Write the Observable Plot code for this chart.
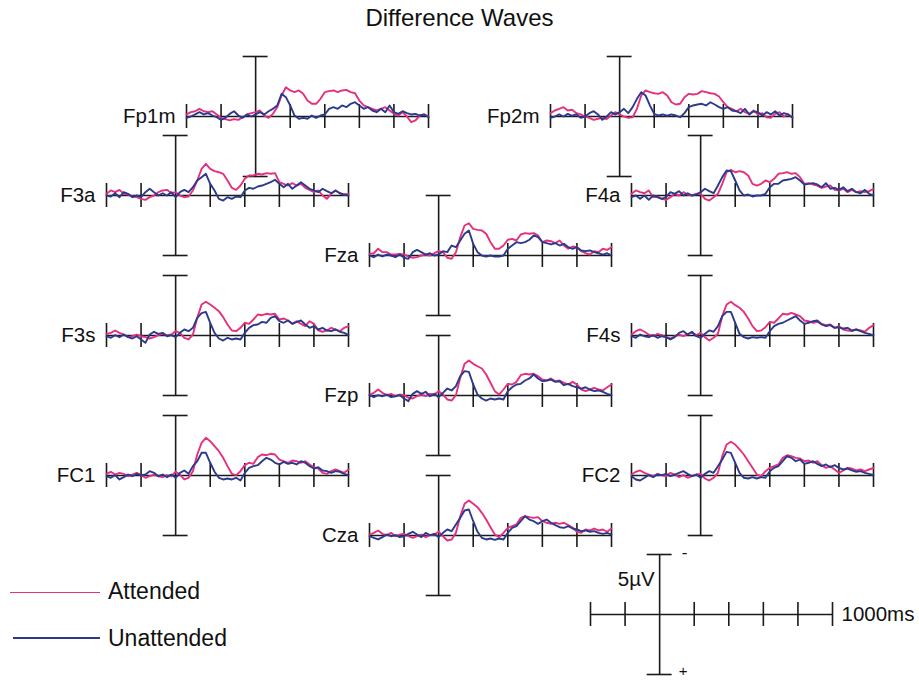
<!DOCTYPE html>
<html><head><meta charset="utf-8">
<script src="https://cdn.jsdelivr.net/npm/d3@7"></script>
<script src="https://cdn.jsdelivr.net/npm/@observablehq/plot@0.6"></script>
<style>
body{margin:0;background:#fff;font-family:"Liberation Sans",Arial,Helvetica,sans-serif;}
#chart{position:relative;width:919px;height:680px;overflow:hidden;background:#fff;}
#chart svg{position:absolute;overflow:visible;background:transparent;}
.title{position:absolute;left:0;width:919px;text-align:center;top:6px;font-size:24px;line-height:24px;color:#111;}
.leg{position:absolute;font-size:23px;line-height:23px;color:#111;}
.legline{position:absolute;height:0;}
</style></head>
<body><div id="chart"><div class="title">Difference Waves</div></div>
<script>
// ---------- data ----------
const times = [-400,-375,-350,-325,-300,-275,-250,-225,-200,-175,-150,-125,-100,-75,-50,-25,
  0,25,50,75,100,125,150,175,200,225,250,275,300,325,350,375,
  400,425,450,475,500,525,550,575,600,625,650,675,700,725,750,775,
  800,825,850,875,900,925,950,975,1000];
const tickValues = [-400,-200,0,200,400,600,800,1000];
const conditions = ["Attended","Unattended"];
const electrodes = ["Fp1m","Fp2m","F3a","F4a","Fza","F3s","F4s","Fzp","FC1","FC2","Cza"];

const fp1mAtt = [-0.17,-0.36,-0.44,-0.64,-0.44,-0.36,-0.44,-0.17,0.11,0.22,0.33,0.22,0.28,0.06,-0.17,-0.28,
  -0.36,-0.5,-0.08,0.11,-0.22,-0.78,-1.75,-2.44,-2.17,-2.03,-2.17,-1.89,-1.33,-1.06,-1.06,-1.47,
  -2.03,-2.11,-2.17,-2.03,-2.17,-2.22,-2.03,-1.94,-1.33,-0.92,-0.78,-0.64,-0.5,-0.64,-0.78,-0.5,
  -0.22,-0.08,-0.36,0,0.47,0.33,-0.08,-0.17,0];
const fp1mUn = [0.11,0,-0.17,-0.36,-0.17,-0.28,-0.08,0.06,0.28,0.11,-0.22,-0.44,-0.08,0.11,-0.17,0,
  -0.17,-0.36,-0.17,-0.44,-0.64,-0.92,-1.89,-1.61,-0.92,-0.08,0.19,0.11,0.19,-0.08,0.11,-0.08,
  -0.17,-0.64,-0.78,-0.64,-0.92,-0.78,-1.06,-1.19,-0.92,-0.64,-0.78,-0.5,-0.36,-0.64,-0.36,-0.92,
  -0.36,-0.22,-0.44,-0.28,-0.17,-0.22,-0.08,-0.17,0.06];
const fp2mAtt = [-0.28,-0.5,-0.64,-0.78,-0.5,-0.56,-0.28,-0.17,0,0.11,0.28,0.19,0.11,0.22,-0.08,-0.36,
  -0.17,0,0.11,0.06,-0.64,-1.75,-2.17,-2.03,-1.94,-1.89,-2.03,-1.75,-1.19,-1.0,-1.06,-1.61,
  -1.89,-1.83,-1.89,-2.11,-2.03,-1.94,-1.89,-1.67,-1.19,-0.78,-0.64,-0.44,-0.64,-0.36,-0.22,-0.5,
  -0.17,-0.28,0.06,0.11,-0.22,-0.36,0,-0.17,0.06];
const fp2mUn = [0.11,0,-0.17,0,-0.22,-0.06,-0.17,0.11,0,-0.28,-0.44,-0.17,0.28,0,-0.36,-0.17,
  -0.36,-0.64,-0.28,-0.78,-1.47,-2.03,-1.75,-0.92,-0.22,-0.08,-0.17,-0.06,-0.17,-0.08,0.06,-0.28,
  -0.78,-0.92,-1.0,-1.06,-0.92,-1.19,-1.0,-0.78,-0.64,-0.78,-0.5,-0.44,-0.28,-0.64,-0.17,-0.44,
  -0.36,-0.08,-0.36,-0.17,-0.44,-0.08,-0.28,-0.17,0.11];
const f3aAtt = [-0.14,-0.42,-0.28,-0.47,-0.14,-0.08,0.08,0.14,0.28,0.36,0.14,0,-0.28,-0.42,-0.47,-0.19,
  -0.28,0,0.14,0.08,-0.42,-1.25,-2.22,-2.64,-2.22,-2.03,-1.94,-1.81,-1.25,-0.64,-0.47,-0.83,
  -1.39,-1.67,-1.67,-1.81,-1.75,-1.86,-1.81,-1.86,-1.11,-0.97,-0.83,-1.03,-0.83,-0.97,-0.64,-0.47,
  -0.28,-0.42,0,0.28,-0.14,-0.42,-0.19,-0.08,-0.14];
const f3aUn = [0,0.08,-0.19,0.14,-0.28,-0.14,0.14,0,0.14,-0.28,-0.56,-0.28,0,-0.19,0,-0.28,
  0.14,-0.28,-0.47,-0.28,-0.69,-1.25,-1.53,-1.81,-0.97,-0.42,0.28,0.42,0.14,0.28,0.08,0.14,
  -0.42,-0.64,-0.56,-0.75,-0.83,-0.97,-1.11,-1.31,-0.97,-0.69,-0.97,-0.56,-0.83,-1.11,-0.83,-0.56,
  -0.42,-0.28,-0.56,-0.36,-0.19,-0.42,-0.19,-0.08,0];
const f4aAtt = [-0.14,-0.42,-0.28,-0.19,-0.42,0.14,0.08,0.28,0.36,0.14,-0.14,0,-0.28,-0.08,0,-0.14,
  -0.14,0.28,0.42,0.14,-0.14,-0.97,-1.94,-2.14,-1.94,-2.03,-1.94,-1.67,-0.97,-0.83,-0.97,-1.25,
  -1.11,-1.39,-1.81,-1.86,-1.94,-1.81,-1.86,-1.53,-0.97,-1.03,-0.92,-0.83,-0.64,-0.75,-0.83,-0.47,
  -0.42,-0.56,-0.28,-0.47,-0.28,-0.36,-0.28,-0.36,-0.56];
const f4aUn = [0.14,0,0.28,0,0.36,0,0.14,0.28,0.14,-0.28,-0.14,-0.36,0,-0.19,0,-0.08,
  -0.28,-0.56,-0.36,-0.19,-0.83,-1.53,-2.08,-2.03,-1.25,-0.42,0,-0.08,0.08,0,0,-0.14,
  -0.69,-0.97,-0.97,-1.25,-1.31,-1.39,-1.53,-1.25,-0.92,-0.97,-1.03,-0.92,-0.69,-1.03,-0.56,-0.64,
  -0.47,-0.69,-0.36,-0.56,-0.28,-0.19,-0.47,-0.14,0];
const fzaAtt = [-0.14,-0.19,-0.56,-0.28,-0.28,-0.08,-0.08,-0.14,-0.08,0.08,0.19,0.14,0,-0.08,0,-0.19,
  -0.36,-0.28,0.19,0.28,-0.28,-1.53,-2.5,-2.69,-2.22,-2.14,-2.08,-1.81,-1.11,-0.56,-0.56,-0.83,
  -1.31,-1.39,-1.25,-1.75,-1.86,-1.81,-1.86,-1.67,-1.11,-1.25,-1.19,-1.03,-1.25,-0.83,-0.56,-0.75,
  -0.69,-0.36,-0.19,-0.08,-0.36,-0.28,-0.56,-0.47,-0.69];
const fzaUn = [0,0.14,-0.08,0.08,-0.08,0,0.14,-0.08,0.19,0.28,-0.28,-0.47,-0.28,-0.08,-0.19,0,
  -0.08,-0.36,-0.28,-0.83,-0.69,-1.25,-1.81,-2.08,-0.97,-0.28,0,0.08,0,0.08,0.08,0,
  -0.56,-0.83,-1.11,-1.03,-1.11,-1.31,-1.67,-1.53,-1.11,-1.03,-0.92,-1.03,-0.83,-0.97,-0.69,-0.56,
  -0.69,-0.42,-0.36,-0.42,-0.28,-0.19,-0.08,-0.19,0];
const f3sAtt = [-0.14,-0.22,-0.42,-0.22,-0.08,0.14,0.06,-0.08,0.06,0.14,0.25,0.14,-0.03,-0.14,-0.03,-0.08,
  -0.36,-0.22,0.19,0.33,-0.08,-1.47,-2.58,-2.81,-2.58,-2.31,-2.03,-1.53,-0.92,-0.42,-0.36,-0.64,
  -1.06,-0.97,-1.33,-1.75,-1.69,-1.81,-1.75,-1.81,-1.33,-1.42,-1.25,-0.97,-1.19,-0.97,-0.78,-1.19,
  -0.97,-0.42,-0.31,-0.42,-0.64,-0.5,-0.36,-0.64,-0.78];
const f3sUn = [0.06,0.19,-0.03,0.14,-0.08,0.14,0.25,0.06,0.33,0.61,-0.08,-0.31,-0.14,-0.22,0.06,-0.03,
  0.14,-0.22,-0.5,-0.36,-0.64,-1.47,-1.86,-1.97,-1.06,-0.22,0.25,0.42,0.19,0.33,0.25,0.33,
  -0.22,-0.64,-0.86,-0.92,-1.14,-1.06,-1.47,-1.61,-1.19,-1.06,-1.25,-0.97,-1.14,-1.25,-0.92,-0.64,
  -0.78,-0.5,-0.64,-0.42,-0.36,-0.5,-0.31,-0.22,-0.03];
const f4sAtt = [-0.08,-0.36,-0.5,-0.31,-0.08,0.06,-0.14,-0.03,0.14,0.25,0.06,-0.08,0.06,-0.14,-0.22,-0.03,
  -0.22,0.14,0.42,0.19,-0.14,-1.61,-2.58,-2.81,-2.53,-2.31,-1.97,-1.42,-0.78,-0.36,-0.42,-0.69,
  -1.14,-1.06,-1.42,-1.81,-1.75,-1.89,-1.75,-1.61,-1.25,-1.19,-1.06,-1.14,-0.97,-0.86,-0.92,-0.64,
  -0.78,-0.5,-0.42,-0.36,-0.5,-0.42,-0.31,-0.64,-0.86];
const f4sUn = [0.06,0.19,-0.08,0.06,0.14,-0.03,0.19,0.06,0.14,0.33,0.14,-0.22,-0.36,-0.08,-0.31,0.06,
  0.19,-0.14,-0.42,-0.31,-0.78,-1.61,-1.97,-1.97,-1.06,-0.14,0.14,0.25,0.14,0.19,0.14,0.19,
  -0.36,-0.78,-0.97,-1.06,-1.25,-1.42,-1.61,-1.25,-0.97,-1.06,-1.19,-1.25,-0.92,-0.78,-0.86,-0.64,
  -0.69,-0.58,-0.64,-0.42,-0.5,-0.36,-0.22,-0.14,0];
const fzpAtt = [-0.08,-0.22,-0.5,-0.22,-0.03,-0.14,0.06,-0.08,-0.03,0.19,0.25,0.06,-0.08,0.06,-0.14,-0.08,
  -0.36,-0.08,0.33,0.42,-0.03,-1.47,-2.64,-2.92,-2.64,-2.44,-2.25,-1.75,-1.06,-0.36,-0.08,-0.5,
  -0.97,-0.92,-1.14,-1.69,-1.81,-1.75,-1.81,-1.61,-1.33,-1.25,-1.42,-1.19,-1.25,-1.06,-0.92,-1.14,
  -0.92,-0.5,-0.36,-0.5,-0.64,-0.5,-0.42,-0.69,-0.92];
const fzpUn = [-0.03,0.14,-0.03,0.06,-0.08,0.14,0.06,-0.03,0.25,0.47,-0.14,-0.36,-0.14,-0.31,0.06,-0.14,
  0.14,-0.22,-0.58,-0.42,-0.78,-1.61,-2.03,-1.97,-0.92,-0.08,0.25,0.42,0.25,0.33,0.25,0.33,
  -0.36,-0.69,-0.92,-0.97,-1.25,-1.42,-1.75,-1.42,-1.19,-1.25,-1.33,-1.14,-1.19,-0.86,-0.97,-0.78,
  -0.69,-0.58,-0.69,-0.5,-0.36,-0.42,-0.31,-0.14,-0.03];
const fc1Att = [-0.14,-0.31,-0.08,-0.22,-0.14,0.06,-0.08,-0.22,-0.03,0.19,0.06,-0.08,0.06,0.14,-0.03,0.06,
  -0.31,-0.08,0.33,0.19,-0.36,-1.75,-2.72,-3.14,-2.86,-2.44,-2.03,-1.47,-0.78,-0.14,-0.03,-0.36,
  -0.86,-1.06,-0.97,-1.53,-1.75,-1.69,-1.81,-1.75,-1.33,-1.19,-1.06,-1.25,-1.19,-1.06,-1.19,-0.92,
  -0.69,-0.58,-0.22,-0.14,-0.36,-0.5,-0.36,-0.22,-0.5];
const fc1Un = [0.06,0.19,-0.03,0.33,0.14,-0.08,0.06,-0.14,-0.03,-0.08,-0.36,-0.22,0.06,-0.08,0.14,-0.08,
  0.19,-0.22,-0.42,-0.14,-0.78,-1.19,-1.89,-1.89,-1.06,-0.31,0.19,0.33,0.25,0.33,0.19,0.42,
  -0.22,-0.64,-0.78,-0.86,-1.19,-1.47,-1.33,-1.06,-0.92,-1.14,-0.97,-1.06,-0.92,-1.19,-1.06,-0.78,
  -0.58,-0.69,-0.42,-0.36,-0.22,-0.36,-0.31,-0.14,-0.03];
const fc2Att = [-0.08,-0.31,-0.42,-0.22,-0.08,0.06,-0.14,-0.03,0.06,-0.22,-0.08,0.14,-0.03,0.19,0.06,-0.08,
  -0.14,0.25,0.42,0.19,-0.22,-1.61,-2.58,-2.81,-2.58,-2.17,-1.75,-1.19,-0.64,-0.08,0.06,-0.36,
  -0.64,-0.78,-0.92,-1.47,-1.69,-1.61,-1.47,-1.42,-1.19,-1.25,-1.06,-1.19,-0.86,-0.64,-0.78,-0.5,
  -0.22,-0.42,-0.64,-0.58,-0.42,-0.5,-0.36,-0.5,-0.64];
const fc2Un = [0.06,0.33,0.42,0.19,-0.03,0.14,-0.08,-0.03,-0.14,0.06,-0.08,-0.22,-0.36,-0.14,0.06,-0.08,
  0.19,-0.14,-0.36,-0.22,-0.78,-1.33,-1.97,-1.89,-1.06,-0.22,0.19,0.25,0.14,0.25,0.14,0.19,
  -0.36,-0.64,-0.78,-1.19,-1.61,-1.47,-1.19,-1.33,-0.97,-1.06,-1.19,-0.97,-0.78,-0.92,-0.69,-0.86,
  -0.64,-0.5,-0.58,-0.42,-0.31,-0.36,-0.22,-0.14,-0.03];
const czaAtt = [-0.08,-0.22,-0.42,-0.14,-0.03,-0.22,0.06,-0.08,-0.14,0.06,0.19,0.06,-0.08,0.14,-0.03,-0.08,
  -0.31,0.06,0.42,0.33,-0.22,-1.61,-2.64,-2.92,-2.64,-2.36,-1.89,-1.33,-0.69,-0.08,0.14,-0.22,
  -0.64,-0.78,-0.92,-1.47,-1.61,-1.53,-1.47,-1.53,-1.19,-1.06,-0.97,-1.06,-0.97,-1.06,-0.86,-0.64,
  -0.31,-0.22,-0.5,-0.42,-0.58,-0.42,-0.5,-0.31,-0.58];
const czaUn = [0.06,0.19,0.33,0.14,-0.08,0.06,-0.03,0.14,0.06,-0.14,-0.31,-0.08,0.14,-0.22,-0.03,-0.14,
  0.14,-0.22,-0.5,-0.36,-0.92,-1.47,-2.08,-2.17,-1.19,-0.31,0.19,0.33,0.25,0.36,0.25,0.33,
  -0.22,-0.64,-0.78,-1.19,-1.61,-1.33,-1.19,-0.97,-1.19,-1.33,-1.06,-0.86,-0.69,-0.64,-0.78,-0.58,
  -0.5,-0.36,-0.42,-0.31,-0.36,-0.22,-0.14,-0.22,-0.08];

const series = {
  Fp1m: [fp1mAtt, fp1mUn], Fp2m: [fp2mAtt, fp2mUn], F3a: [f3aAtt, f3aUn], F4a: [f4aAtt, f4aUn],
  Fza: [fzaAtt, fzaUn], F3s: [f3sAtt, f3sUn], F4s: [f4sAtt, f4sUn], Fzp: [fzpAtt, fzpUn],
  FC1: [fc1Att, fc1Un], FC2: [fc2Att, fc2Un], Cza: [czaAtt, czaUn]
};

// ---------- layout (page position of each panel's origin: 0 ms, 0 µV) ----------
const layout = {
  Fp1m: [255.3, 116], Fp2m: [619.3, 116], F3a: [175.3, 195], F4a: [700, 195],
  Fza: [437.8, 255], F3s: [175.3, 334.5], F4s: [700, 334.5], Fzp: [438, 394.5],
  FC1: [175.3, 474.5], FC2: [700, 474.5], Cza: [438, 534.5]
};
const scaleBarPos = [659, 614];

const PINK = "#e5307c", BLUE = "#2b3a8f", AXIS = "#1a1a1a";
const PW = 242, PH = 120, ML = 90, MR = 90, MT = 14, MB = 14;
const zeroOffset = PW * 400 / 1400;
const FONT = "'Liberation Sans', Arial, Helvetica, sans-serif";

function axesMarks() {
  return [
    Plot.ruleY([0], {stroke: AXIS, strokeWidth: 1.6}),
    Plot.ruleX(tickValues.filter(d => d !== 0), {y1: -1, y2: 1, stroke: AXIS, strokeWidth: 1.6}),
    Plot.ruleX([0], {y1: -5, y2: 5, stroke: AXIS, strokeWidth: 1.6}),
    Plot.ruleY([-5, 5], {x1: -72, x2: 72, stroke: AXIS, strokeWidth: 1.6})
  ];
}

function makePlot(marks) {
  return Plot.plot({
    width: ML + PW + MR, height: MT + PH + MB,
    marginLeft: ML, marginRight: MR, marginTop: MT, marginBottom: MB,
    x: {domain: [-400, 1000], axis: null},
    y: {domain: [-5, 5], reverse: true, axis: null},
    color: {domain: conditions, range: [PINK, BLUE]},
    style: {overflow: "visible", background: "transparent", fontFamily: FONT, fontSize: "20px", color: "#111"},
    marks
  });
}

const chart = document.getElementById("chart");
function place(svg, pos) {
  svg.style.left = (pos[0] - ML - zeroOffset) + "px";
  svg.style.top = (pos[1] - MT - PH / 2) + "px";
  chart.appendChild(svg);
}

for (const name of electrodes) {
  const [att, un] = series[name];
  const rows = [];
  times.forEach((t, i) => rows.push({t, v: att[i], c: conditions[0]}));
  times.forEach((t, i) => rows.push({t, v: un[i], c: conditions[1]}));
  const svg = makePlot([
    ...axesMarks(),
    Plot.line(rows, {x: "t", y: "v", z: "c", stroke: "c", strokeWidth: 1.9, curve: "linear"}),
    Plot.text([name], {frameAnchor: "left", dx: -11, textAnchor: "end", fontSize: 20.5, fill: "#111"})
  ]);
  place(svg, layout[name]);
}

// scale bar
const sb = makePlot([
  ...axesMarks(),
  Plot.text(["5µV"], {x: 0, y: -2.9, dx: -5, textAnchor: "end", fontSize: 20.5, fill: "#111"}),
  Plot.text(["1000ms"], {x: 1000, y: 0, dx: 9, textAnchor: "start", fontSize: 20.5, fill: "#111"}),
  Plot.text(["-"], {x: 0, y: -5, dx: 22, dy: -2, textAnchor: "start", fontSize: 17, fill: "#111"}),
  Plot.text(["+"], {x: 0, y: 5, dx: 19, dy: -3, textAnchor: "start", fontSize: 15, fill: "#111"})
]);
place(sb, scaleBarPos);

// legend
const legendItems = [
  {label: conditions[0], color: PINK, y: 592.5, x0: 10, x1: 100, w: 1.5, ty: 580},
  {label: conditions[1], color: BLUE, y: 638, x0: 13, x1: 100, w: 2.5, ty: 627}
];
for (const it of legendItems) {
  const ln = document.createElement("div");
  ln.className = "legline";
  ln.style.left = it.x0 + "px";
  ln.style.width = (it.x1 - it.x0) + "px";
  ln.style.top = (it.y - it.w / 2) + "px";
  ln.style.borderTop = it.w + "px solid " + it.color;
  chart.appendChild(ln);
  const tx = document.createElement("div");
  tx.className = "leg";
  tx.style.left = "108px";
  tx.style.top = it.ty + "px";
  tx.textContent = it.label;
  chart.appendChild(tx);
}
</script></body></html>
